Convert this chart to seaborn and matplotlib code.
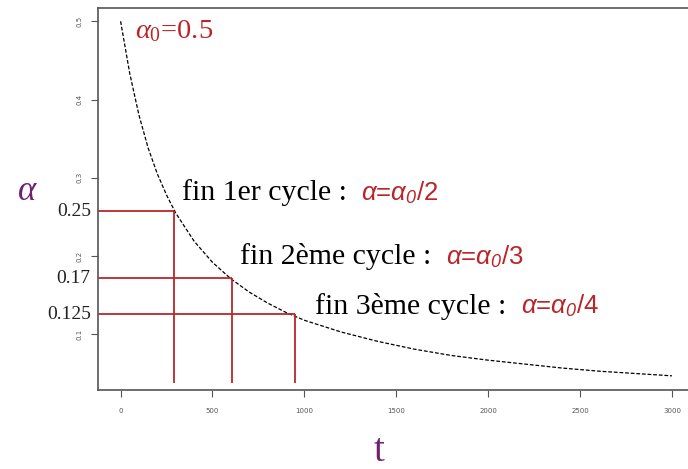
import matplotlib
matplotlib.use("Agg")
import matplotlib.pyplot as plt
import seaborn as sns
import pandas as pd
from matplotlib import font_manager

# ---- data ----
t_vals = [0, 50, 100, 150, 200, 250, 300, 400, 500, 600, 700, 800, 900, 1000,
          1200, 1400, 1600, 1800, 2000, 2200, 2400, 2600, 2800, 3000]
alpha_vals = [0.500, 0.433, 0.380, 0.338, 0.305, 0.278, 0.255, 0.219, 0.192, 0.171,
              0.154, 0.140, 0.128, 0.118, 0.103, 0.091, 0.081, 0.073, 0.067,
              0.062, 0.057, 0.053, 0.050, 0.047]
cycle_t = [292, 604, 949]
cycle_alpha = [0.257, 0.172, 0.1255]
cycle_labels = ["0.25", "0.17", "0.125"]
cycle_names = ["fin 1er cycle : ", "fin 2ème cycle : ", "fin 3ème cycle : "]
cycle_div = ["2", "3", "4"]
x_ticks = [0, 500, 1000, 1500, 2000, 2500, 3000]
y_ticks = [0.1, 0.2, 0.3, 0.4, 0.5]

sns.set_style("white")
names = {f.name for f in font_manager.fontManager.ttflist}
narrow = "Liberation Sans Narrow" if "Liberation Sans Narrow" in names else "Liberation Sans"
plt.rcParams["mathtext.fontset"] = "custom"
plt.rcParams["mathtext.rm"] = "Liberation Serif"
plt.rcParams["mathtext.it"] = "Liberation Serif:italic"
plt.rcParams["mathtext.sf"] = narrow + ":italic"

df = pd.DataFrame({"t": t_vals, "alpha": alpha_vals})

fig = plt.figure(figsize=(6.88, 4.69), dpi=100)
ax = fig.add_axes([98 / 688, 1 - 390 / 469, (694 - 98) / 688, (390 - 8) / 469])

sns.lineplot(data=df, x="t", y="alpha", ax=ax, color="black", linewidth=0.9,
             linestyle=(0, (3, 1.5)))

xmin, xmax = -123, 3120
ymin, ymax = 0.0289, 0.517
ax.set_xlim(xmin, xmax)
ax.set_ylim(ymin, ymax)

red = "#bb2529"
for tc, ac in zip(cycle_t, cycle_alpha):
    ax.hlines(ac, xmin, tc, color=red, linewidth=1.3)
    ax.vlines(tc, 0.038, ac, color=red, linewidth=1.3)

for ac, lab in zip(cycle_alpha, cycle_labels):
    ax.text(-0.012, ac, lab, transform=ax.get_yaxis_transform(), ha="right", va="center",
            fontsize=14, family="Liberation Serif", color="#222222")

name_pos = [(334, 0.281), (651, 0.199), (1058, 0.136)]
for (x, y), nm, d in zip(name_pos, cycle_names, cycle_div):
    txt = ax.text(x, y, nm, ha="left", va="center", fontsize=21.5,
                  family="Liberation Serif", color="black")
    fm = r"$\mathsf{\alpha}$=$\mathsf{\alpha}_\mathsf{0}$/" + d
    ax.annotate(fm, xy=(1, 0.5), xycoords=txt, xytext=(5, 0), textcoords="offset points",
                ha="left", va="center", fontsize=18.5, color=red, family=narrow)

ax.text(78, 0.487, r"$\alpha_\mathrm{0}$=0.5", ha="left", va="center", fontsize=20.5,
        family="Liberation Serif", color=red)

ax.set_xticks(x_ticks)
ax.set_xticklabels([str(v) for v in x_ticks])
ax.set_yticks(y_ticks)
ax.set_yticklabels([str(v) for v in y_ticks], rotation=90, va="center")
ax.tick_params(axis="both", which="both", direction="out", length=5, width=0.8,
               colors="#555555", labelsize=5, labelcolor="#555555", bottom=True, left=True)
ax.tick_params(axis="x", pad=8)
ax.tick_params(axis="y", pad=6)
ax.set_xlabel("")
ax.set_ylabel("")
for sp in ax.spines.values():
    sp.set_color("#555555")
    sp.set_linewidth(1.2)

purple = "#6e2270"
fig.text(27 / 688, 1 - 190 / 469, r"$\alpha$", fontsize=25, color=purple, ha="center",
         va="center")
fig.text(379 / 688, 1 - 451 / 469, "t", fontsize=28, color=purple, ha="center", va="center",
         family="Liberation Serif")

fig.savefig("out.png", dpi=100)
